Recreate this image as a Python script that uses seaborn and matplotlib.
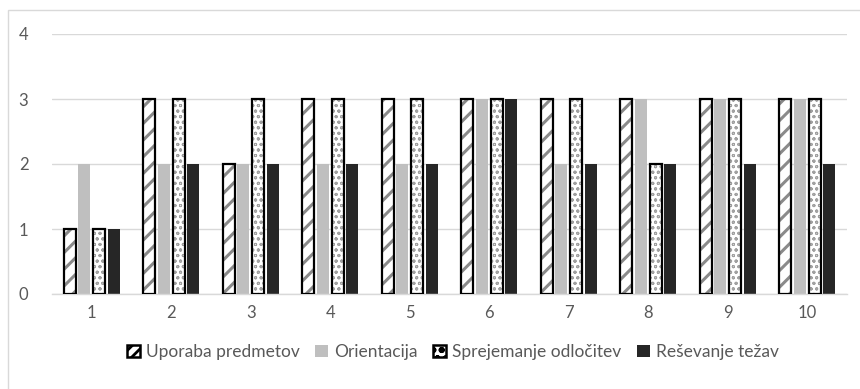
import matplotlib
matplotlib.use("Agg")
import matplotlib.pyplot as plt
import seaborn as sns
import pandas as pd
from matplotlib.patches import Rectangle

categories = ["1", "2", "3", "4", "5", "6", "7", "8", "9", "10"]
series_names = ["Uporaba predmetov", "Orientacija", "Sprejemanje odločitev", "Reševanje težav"]
uporaba = [1, 3, 2, 3, 3, 3, 3, 3, 3, 3]
orientacija = [2, 2, 2, 2, 2, 3, 2, 3, 3, 3]
sprejemanje = [1, 3, 3, 3, 3, 3, 3, 2, 3, 3]
resevanje = [1, 2, 2, 2, 2, 3, 2, 2, 2, 2]
y_ticks = [0, 1, 2, 3, 4]

rows = []
for name, vals in zip(series_names, [uporaba, orientacija, sprejemanje, resevanje]):
    for c, v in zip(categories, vals):
        rows.append({"cat": c, "series": name, "value": v})
df = pd.DataFrame(rows)

sns.set_theme(style="white")
plt.rcParams["font.family"] = ["Lato", "DejaVu Sans"]
plt.rcParams["hatch.linewidth"] = 2.0

fig = plt.figure(figsize=(8.6, 3.89), dpi=100)
ax = fig.add_axes([52/860, 1 - 294/389, 795/860, 260/389])

styles = {
    "Uporaba predmetov": dict(face="white", hatch="//", hcol="#8a8a8a", hlw=2.2),
    "Orientacija": dict(face="#bfbfbf", hatch=None),
    "Sprejemanje odločitev": dict(face="white", hatch="ooo", hcol="#a0a0a0", hlw=0.7),
    "Reševanje težav": dict(face="#262626", hatch=None),
}
palette = {k: v["face"] for k, v in styles.items()}

sns.barplot(data=df, x="cat", y="value", hue="series", hue_order=series_names,
            order=categories, palette=palette, width=0.735, gap=0.18,
            ax=ax, legend=False, saturation=1)

legend_handles = []
for name, cont in zip(series_names, ax.containers):
    st = styles[name]
    for bar in cont:
        bar.set_linewidth(0)
        if st["hatch"]:
            bar.set_edgecolor(st["hcol"])
            bar.set_hatch(st["hatch"])
            if hasattr(bar, "set_hatch_linewidth"):
                bar.set_hatch_linewidth(st["hlw"])
            else:
                bar._hatch_linewidth = st["hlw"]
            ax.add_patch(Rectangle(bar.get_xy(), bar.get_width(), bar.get_height(),
                                   fill=False, edgecolor="black", linewidth=1.6, zorder=3))
        else:
            bar.set_edgecolor(st["face"])
    if st["hatch"]:
        h = Rectangle((0, 0), 1, 1, facecolor="white", edgecolor="black",
                      linewidth=1.8, hatch="///" if st["hatch"] == "//" else "oo")
        if hasattr(h, "set_hatch_linewidth"):
            h.set_hatch_linewidth(1.0)
    else:
        h = Rectangle((0, 0), 1, 1, facecolor=st["face"], edgecolor=st["face"], linewidth=0)
    legend_handles.append(h)

ax.set_ylim(0, 4)
ax.set_xlim(-0.5, len(categories) - 0.5)
ax.set_yticks(y_ticks)
ax.yaxis.grid(True, color="#d9d9d9", linewidth=1.0)
ax.set_axisbelow(True)
for s in ["top", "right", "left"]:
    ax.spines[s].set_visible(False)
ax.spines["bottom"].set_color("#d9d9d9")
ax.spines["bottom"].set_linewidth(1.0)
ax.tick_params(axis="both", length=0, labelsize=12, labelcolor="#595959")
ax.tick_params(axis="y", pad=17)
ax.tick_params(axis="x", pad=8)
ax.set_xlabel("")
ax.set_ylabel("")

fig.legend(legend_handles, series_names, loc="center", bbox_to_anchor=(453/860, 1 - 352/389),
           ncol=4, frameon=False, fontsize=12.5, labelcolor="#595959",
           handlelength=0.75, handleheight=0.75, handletextpad=0.35, columnspacing=0.9)

fig.patches.append(Rectangle((8/860, -0.05), 1.0, 1 - 10/389 + 0.05, transform=fig.transFigure,
                             fill=False, edgecolor="#d9d9d9", linewidth=1.0))

fig.savefig("out.png", dpi=100)
